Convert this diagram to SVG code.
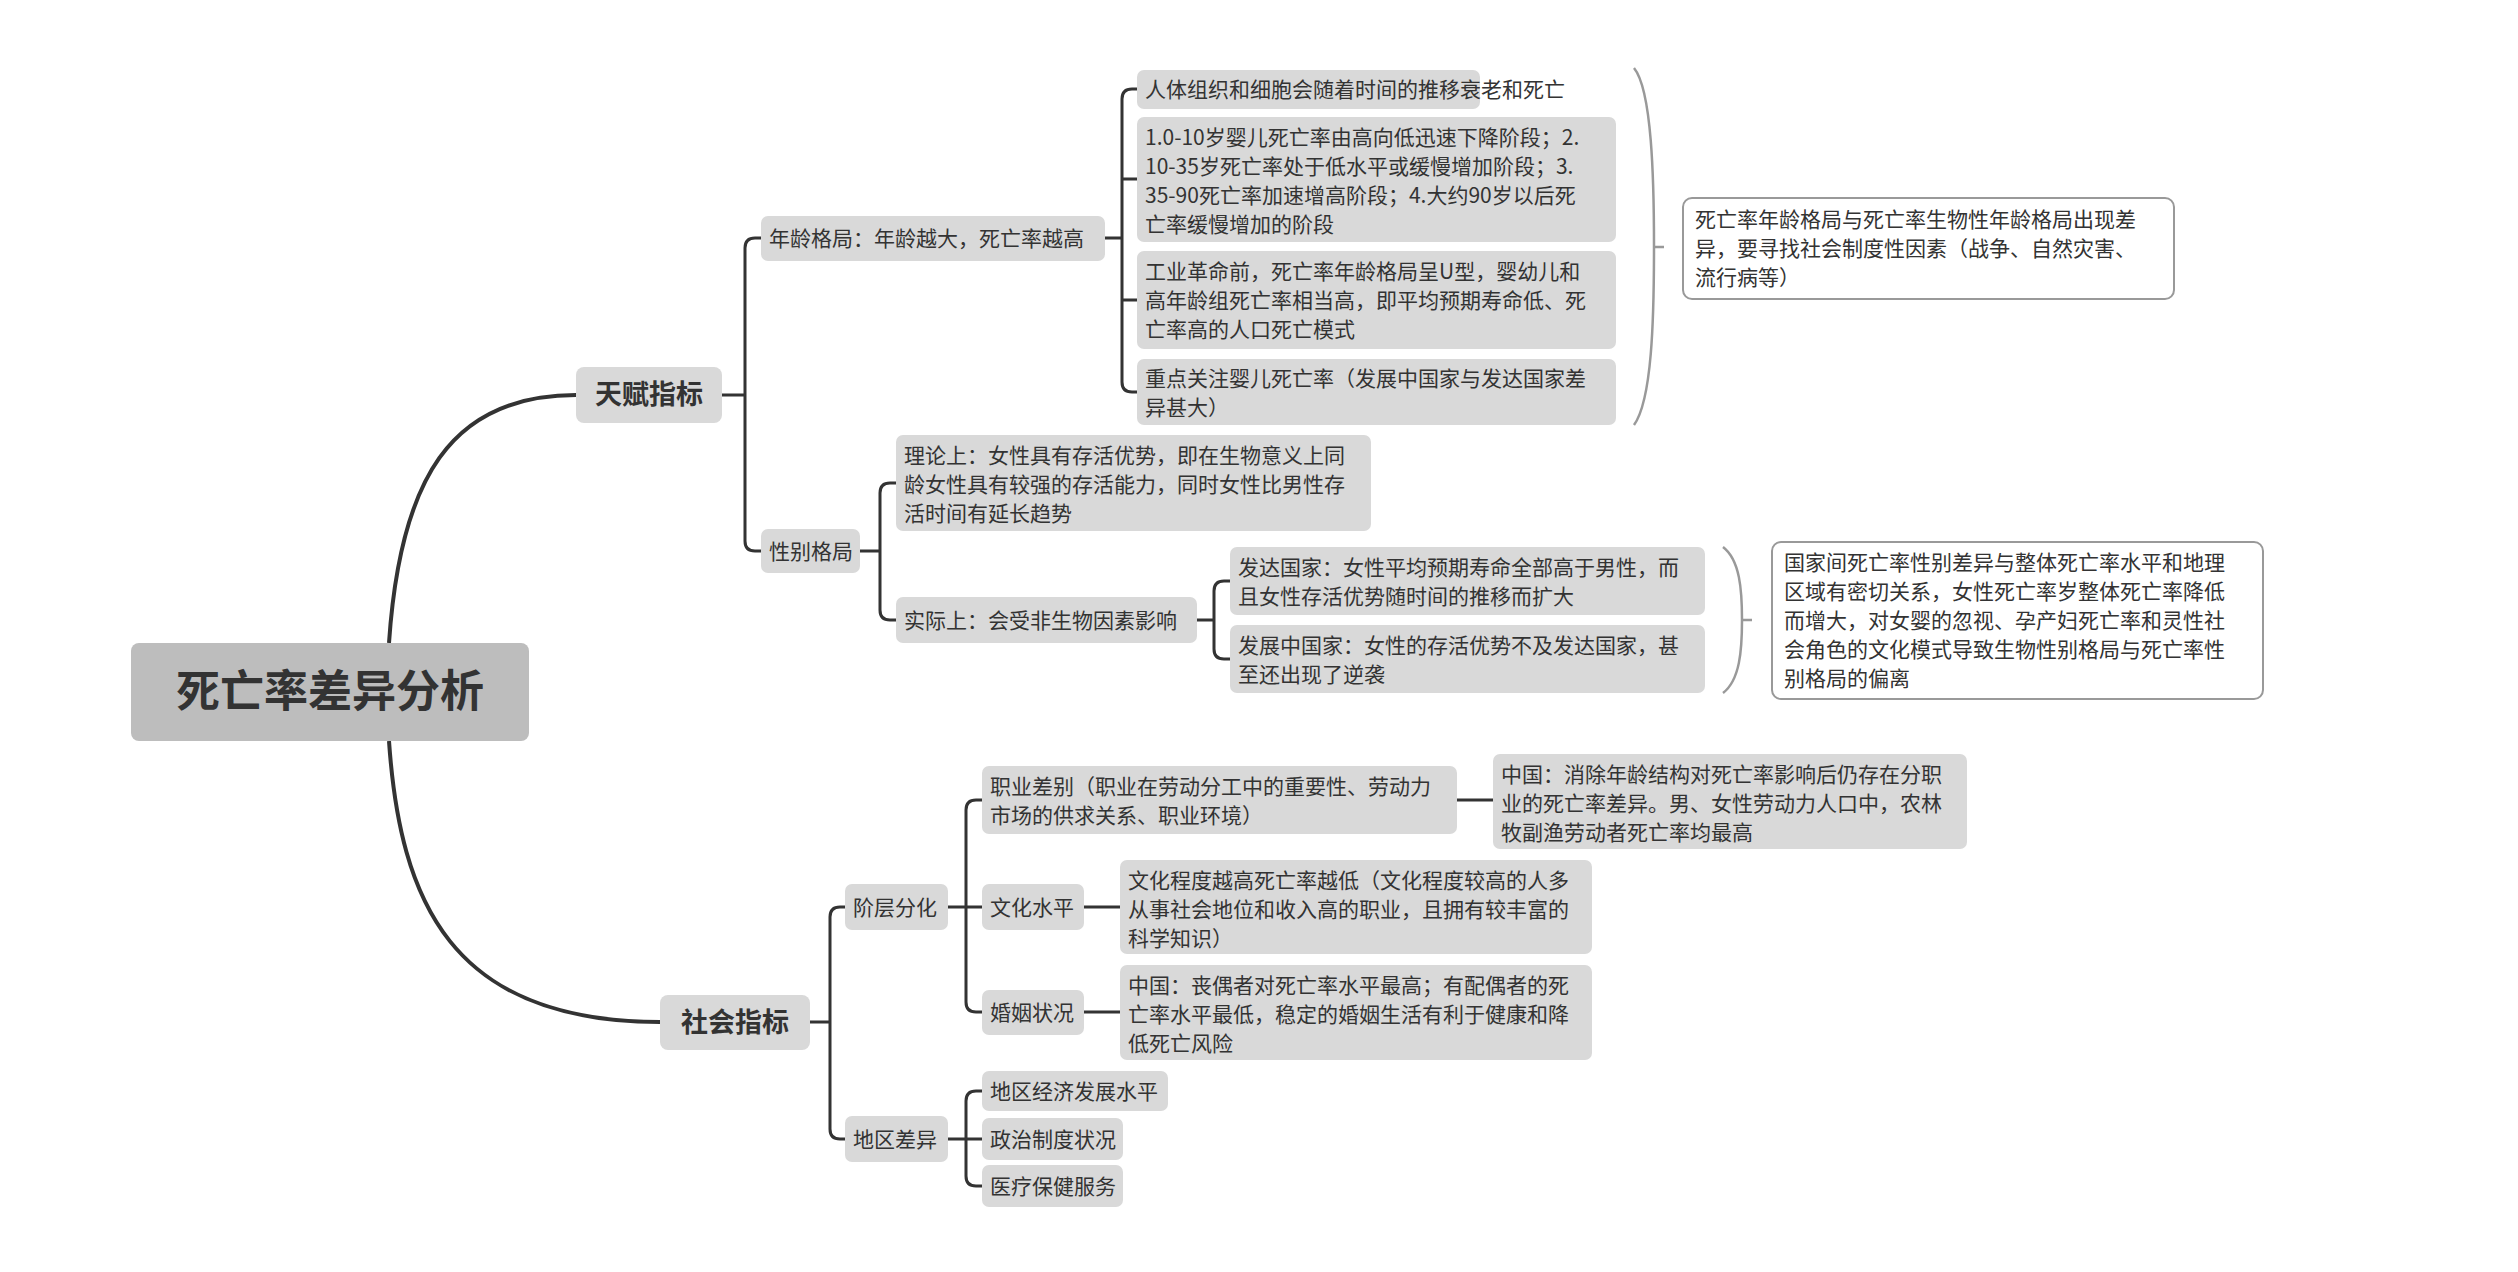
<svg xmlns="http://www.w3.org/2000/svg" width="2518" height="1272" viewBox="0 0 2518 1272">
<style>
text{font-family:"Noto Sans CJK SC","Noto Sans",sans-serif;fill:#333;font-size:21px}
.n{fill:#d9d9d9}
.s{fill:#fff;stroke:#999;stroke-width:2}
.c path{fill:none;stroke:#333;stroke-width:3}
.c path.m{stroke-width:4}
.b path{fill:none;stroke:#999;stroke-width:2.5}
</style>
<rect width="2518" height="1272" fill="#fff"/>
<g class="c">
<path class="m" d="M389,643 C400,480 450,395 576,395"/>
<path class="m" d="M389,741 C400,900 450,1022 660,1022"/>
<path d="M722,395 H745 M761,238 H755 Q745,238 745,248 V541 Q745,551 755,551 H761"/>
<path d="M1105,238 H1122 M1137,89 H1132 Q1122,89 1122,99 V382 Q1122,392 1132,392 H1137 M1122,179 H1137 M1122,300 H1137"/>
<path d="M860,551 H880 M896,483 H890 Q880,483 880,493 V610 Q880,620 890,620 H896"/>
<path d="M1197,620 H1214 M1230,581 H1224 Q1214,581 1214,591 V649 Q1214,659 1224,659 H1230"/>
<path d="M810,1022 H830 M845,907 H840 Q830,907 830,917 V1129 Q830,1139 840,1139 H845"/>
<path d="M948,907 H982 M982,800 H976 Q966,800 966,810 V1002 Q966,1012 976,1012 H982"/>
<path d="M1457,800 H1493 M1084,907 H1120 M1084,1012 H1120"/>
<path d="M948,1139 H982 M982,1091 H976 Q966,1091 966,1101 V1176 Q966,1186 976,1186 H982"/>
</g>
<g class="b">
<path d="M1634,68 C1652,90 1654,180 1654,247 C1654,320 1652,400 1634,425 M1654,247 H1664"/>
<path d="M1723,547 C1740,560 1742,590 1742,620 C1742,650 1740,680 1723,693 M1742,620 H1752"/>
</g>
<g id="root"><rect x="131" y="643" width="398" height="98" rx="8" fill="#bdbdbd"/><text x="330" y="707" text-anchor="middle" style="font-size:44px;font-weight:bold">死亡率差异分析</text></g>
<g id="tianfu"><rect class="n" x="576" y="367" width="146" height="56" rx="8"/><text x="649" y="404" text-anchor="middle" style="font-size:27px;font-weight:bold">天赋指标</text></g>
<g id="shehui"><rect class="n" x="660" y="995" width="150" height="55" rx="8"/><text x="735" y="1032" text-anchor="middle" style="font-size:27px;font-weight:bold">社会指标</text></g>
<g id="nianling"><rect class="n" x="761" y="216" width="344" height="45" rx="7"/><text x="769" y="246">年龄格局：年龄越大，死亡率越高</text></g>
<g id="xingbie"><rect class="n" x="761" y="529" width="99" height="44" rx="7"/><text x="769" y="559">性别格局</text></g>
<g id="a1"><rect class="n" x="1137" y="70" width="343" height="39" rx="7"/><text x="1145" y="97">人体组织和细胞会随着时间的推移衰老和死亡</text></g>
<g id="a2"><rect class="n" x="1137" y="117" width="479" height="125" rx="7"/><text x="1145" y="145">1.0-10岁婴儿死亡率由高向低迅速下降阶段；2.</text><text x="1145" y="174">10-35岁死亡率处于低水平或缓慢增加阶段；3.</text><text x="1145" y="203">35-90死亡率加速增高阶段；4.大约90岁以后死</text><text x="1145" y="232">亡率缓慢增加的阶段</text></g>
<g id="a3"><rect class="n" x="1137" y="251" width="479" height="98" rx="7"/><text x="1145" y="279">工业革命前，死亡率年龄格局呈U型，婴幼儿和</text><text x="1145" y="308">高年龄组死亡率相当高，即平均预期寿命低、死</text><text x="1145" y="337">亡率高的人口死亡模式</text></g>
<g id="a4"><rect class="n" x="1137" y="359" width="479" height="66" rx="7"/><text x="1145" y="386">重点关注婴儿死亡率（发展中国家与发达国家差</text><text x="1145" y="415">异甚大）</text></g>
<g id="sum1"><rect class="s" x="1683" y="198" width="491" height="101" rx="9"/><text x="1695" y="227">死亡率年龄格局与死亡率生物性年龄格局出现差</text><text x="1695" y="256">异，要寻找社会制度性因素（战争、自然灾害、</text><text x="1695" y="285">流行病等）</text></g>
<g id="lilun"><rect class="n" x="896" y="435" width="475" height="96" rx="7"/><text x="904" y="463">理论上：女性具有存活优势，即在生物意义上同</text><text x="904" y="492">龄女性具有较强的存活能力，同时女性比男性存</text><text x="904" y="521">活时间有延长趋势</text></g>
<g id="shiji"><rect class="n" x="896" y="597" width="301" height="46" rx="7"/><text x="904" y="628">实际上：会受非生物因素影响</text></g>
<g id="fada"><rect class="n" x="1230" y="547" width="475" height="68" rx="7"/><text x="1238" y="575">发达国家：女性平均预期寿命全部高于男性，而</text><text x="1238" y="604">且女性存活优势随时间的推移而扩大</text></g>
<g id="fazhan"><rect class="n" x="1230" y="625" width="475" height="68" rx="7"/><text x="1238" y="653">发展中国家：女性的存活优势不及发达国家，甚</text><text x="1238" y="682">至还出现了逆袭</text></g>
<g id="sum2"><rect class="s" x="1772" y="542" width="491" height="157" rx="9"/><text x="1784" y="570">国家间死亡率性别差异与整体死亡率水平和地理</text><text x="1784" y="599">区域有密切关系，女性死亡率岁整体死亡率降低</text><text x="1784" y="628">而增大，对女婴的忽视、孕产妇死亡率和灵性社</text><text x="1784" y="657">会角色的文化模式导致生物性别格局与死亡率性</text><text x="1784" y="686">别格局的偏离</text></g>
<g id="jieceng"><rect class="n" x="845" y="884" width="103" height="46" rx="7"/><text x="853" y="915">阶层分化</text></g>
<g id="diqu"><rect class="n" x="845" y="1116" width="103" height="46" rx="7"/><text x="853" y="1147">地区差异</text></g>
<g id="zhiye"><rect class="n" x="982" y="766" width="475" height="68" rx="7"/><text x="990" y="794">职业差别（职业在劳动分工中的重要性、劳动力</text><text x="990" y="823">市场的供求关系、职业环境）</text></g>
<g id="zhiye2"><rect class="n" x="1493" y="754" width="474" height="95" rx="7"/><text x="1501" y="782">中国：消除年龄结构对死亡率影响后仍存在分职</text><text x="1501" y="811">业的死亡率差异。男、女性劳动力人口中，农林</text><text x="1501" y="840">牧副渔劳动者死亡率均最高</text></g>
<g id="wenhua"><rect class="n" x="982" y="884" width="102" height="46" rx="7"/><text x="990" y="915">文化水平</text></g>
<g id="wenhua2"><rect class="n" x="1120" y="860" width="472" height="94" rx="7"/><text x="1128" y="888">文化程度越高死亡率越低（文化程度较高的人多</text><text x="1128" y="917">从事社会地位和收入高的职业，且拥有较丰富的</text><text x="1128" y="946">科学知识）</text></g>
<g id="hunyin"><rect class="n" x="982" y="990" width="102" height="45" rx="7"/><text x="990" y="1020">婚姻状况</text></g>
<g id="hunyin2"><rect class="n" x="1120" y="965" width="472" height="95" rx="7"/><text x="1128" y="993">中国：丧偶者对死亡率水平最高；有配偶者的死</text><text x="1128" y="1022">亡率水平最低，稳定的婚姻生活有利于健康和降</text><text x="1128" y="1051">低死亡风险</text></g>
<g id="d1"><rect class="n" x="982" y="1071" width="186" height="40" rx="7"/><text x="990" y="1099">地区经济发展水平</text></g>
<g id="d2"><rect class="n" x="982" y="1118" width="141" height="42" rx="7"/><text x="990" y="1147">政治制度状况</text></g>
<g id="d3"><rect class="n" x="982" y="1165" width="141" height="42" rx="7"/><text x="990" y="1194">医疗保健服务</text></g>
</svg>
